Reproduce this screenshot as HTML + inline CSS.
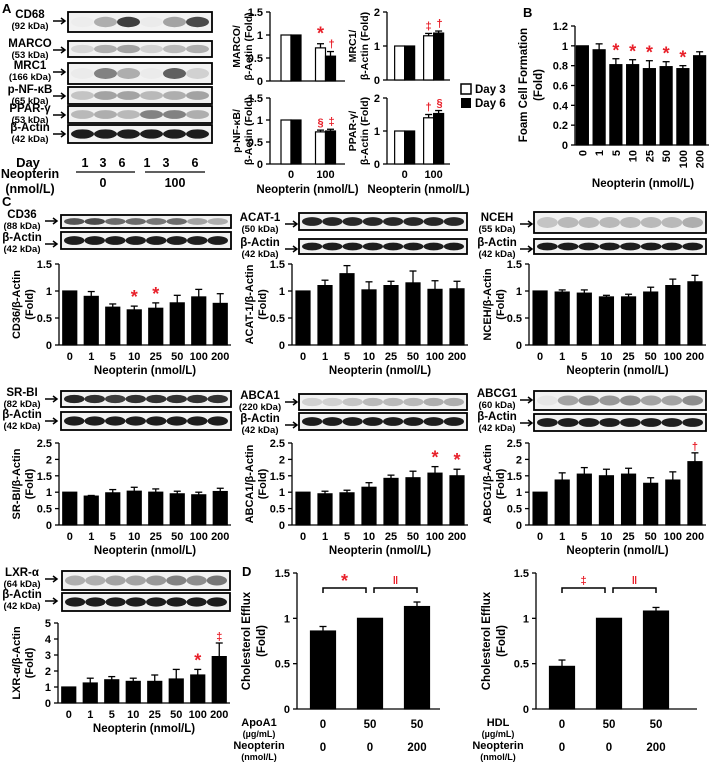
<!DOCTYPE html>
<html><head><meta charset="utf-8">
<style>
html,body{margin:0;padding:0;background:#fff;}
svg{display:block;font-family:"Liberation Sans",Arial,sans-serif;font-weight:bold;}
</style></head>
<body>
<svg id="fig" width="709" height="762" viewBox="0 0 709 762" xmlns="http://www.w3.org/2000/svg"></svg>
<script>
// ---------- data ----------
const concCats = ["0","1","5","10","25","50","100","200"];
const cd36Vals = [1,0.9,0.7,0.65,0.68,0.78,0.89,0.77];
const cd36Errs = [0,0.09,0.06,0.07,0.1,0.14,0.14,0.18];
const acatVals = [1,1.1,1.32,1.02,1.1,1.15,1.03,1.04];
const acatErrs = [0,0.1,0.15,0.15,0.08,0.22,0.16,0.14];
const ncehVals = [1,0.98,0.96,0.89,0.89,0.98,1.1,1.17];
const ncehErrs = [0,0.04,0.06,0.03,0.05,0.09,0.12,0.12];
const srbiVals = [1,0.88,0.98,1.03,1,0.95,0.92,1.02];
const srbiErrs = [0,0.02,0.1,0.12,0.1,0.08,0.08,0.1];
const abca1Vals = [1,0.95,0.98,1.15,1.42,1.44,1.58,1.5];
const abca1Errs = [0,0.08,0.08,0.14,0.1,0.2,0.2,0.2];
const abcg1Vals = [1,1.37,1.55,1.5,1.55,1.27,1.37,1.93];
const abcg1Errs = [0,0.22,0.2,0.2,0.18,0.17,0.25,0.27];
const lxrVals = [1,1.25,1.45,1.35,1.35,1.5,1.75,2.9];
const lxrErrs = [0,0.3,0.2,0.2,0.4,0.6,0.35,0.85];
const foamVals = [1,0.96,0.81,0.81,0.77,0.79,0.77,0.9];
const foamErrs = [0,0.06,0.06,0.05,0.08,0.05,0.03,0.04];
const aCats = ["0","100"];
const marcoDay3 = [1,0.72], marcoDay6 = [1,0.54], marcoErr3 = [0,0.09], marcoErr6 = [0,0.1];
const pnfDay3 = [1,0.73], pnfDay6 = [1,0.75], pnfErr3 = [0,0.04], pnfErr6 = [0,0.04];
const mrc1Day3 = [1,1.3], mrc1Day6 = [1,1.38], mrc1Err3 = [0,0.07], mrc1Err6 = [0,0.06];
const pparDay3 = [1,1.4], pparDay6 = [1,1.53], pparErr3 = [0,0.1], pparErr6 = [0,0.09];
const apoVals = [0.86,1,1.13], apoErrs = [0.05,0,0.05];
const hdlVals = [0.47,1,1.08], hdlErrs = [0.07,0,0.04];
const ticks15 = ["0","0.5","1","1.5"];
const ticks25 = ["0","0.5","1","1.5","2","2.5"];
const ticks5 = ["0","1","2","3","4","5"];
const ticks2 = ["0","1","2"];
const ticksFoam = ["0","0.2","0.4","0.6","0.8","1","1.2"];

// ---------- helpers ----------
const S = document.getElementById('fig');
const NS = "http://www.w3.org/2000/svg";
function mk(tag, at, parent){const e=document.createElementNS(NS,tag);for(const k in at)e.setAttribute(k,at[k]);(parent||S).appendChild(e);return e;}
function txt(x,y,s,size,anchor,name,color,parent){const t=mk('text',{x:x,y:y,'font-size':size,'text-anchor':anchor||'middle',fill:color||'#000'},parent);t.textContent=s;


return t;}
function line(x1,y1,x2,y2,w,parent){return mk('line',{x1:x1,y1:y1,x2:x2,y2:y2,stroke:'#000','stroke-width':w||1.3},parent);}

function axes(g,c,ticks){
  const ys=v=>c.yBot-(v/c.max)*(c.yBot-c.yTop);
  const ax=line(c.x0,c.yTop,c.x0,c.yBot,1.3,g);
  
  
  const bx=line(c.x0,c.yBot,c.x1,c.yBot,1.3,g);
  
  
  ticks.forEach(t=>{const y=ys(parseFloat(t));line(c.x0-4,y,c.x0,y,1.3,g);txt(c.x0-7,y+4,t,c.tf||11,'end','y-tick-label',null,g);});
  return ys;
}
function bar(g,x,w,y0,y1,fill,name){const r=mk('rect',{x:x-w/2,y:y1,width:w,height:y0-y1,fill:fill,stroke:'#000','stroke-width':1.2},g);


return r;}
function err(g,x,yTop,yErr){if(Math.abs(yErr-yTop)<0.5)return;line(x,yTop,x,yErr,1.3,g);line(x-3.5,yErr,x+3.5,yErr,1.3,g);}

function concChart(name,c,vals,errs,ticks){
  const g=mk('g',{});
  
  
  const ys=axes(g,c,ticks);
  const band=(c.x1-c.x0)/concCats.length;
  vals.forEach((v,i)=>{const cx=c.x0+band*(i+0.5);bar(g,cx,c.bw||14,c.yBot,ys(v),'#000','bar-'+concCats[i]);err(g,cx,ys(v),ys(v+errs[i]));
    txt(cx,c.yBot+15,concCats[i],11,'middle','x-tick-label',null,g);
    if(c.marks&&c.marks[i])txt(cx,ys(v+errs[i])-3,c.marks[i],c.marks[i]==='*'?18:11,'middle','significance-mark','#e8202a',g);});
  txt((c.x0+c.x1)/2,c.yBot+29,'Neopterin (nmol/L)',11.5,'middle','x-axis-title',null,g);
  const cy=(c.yTop+c.yBot)/2;
  c.ylab.forEach((s,k)=>{const t=txt(c.ylx+k*13,cy,s,11,'middle','y-axis-title',null,g);t.setAttribute('transform','rotate(-90 '+(c.ylx+k*13)+' '+cy+')');});
}
function blot(name,x,y,w,h,lanes){
  const g=mk('g',{});
  
  
  mk('rect',{x:x,y:y,width:w,height:h,fill:'#f2f2f2',stroke:'#000','stroke-width':1.8},g);
  const lw=(w-6)/lanes.length;
  lanes.forEach((a,i)=>{mk('ellipse',{cx:x+3+lw*(i+0.5),cy:y+h/2,rx:lw*0.5,ry:h*0.26,fill:'#111','fill-opacity':a},g);});
}
function arrow(x,y){
  const g=mk('g',{});
  
  
  line(x,y,x+11,y,1.5,g);
  mk('path',{d:'M'+(x+8)+' '+(y-3)+'L'+(x+12)+' '+y+'L'+(x+8)+' '+(y+3),fill:'none',stroke:'#000','stroke-width':1.5},g);
}
function blotLabel(x,y,n,k,arrowX){
  txt(x,y,n,11.5,'middle','blot-label');
  txt(x,y+11,k,9.5,'middle','blot-kda');
  arrow(arrowX,y+3);
}

// ---------- Panel A ----------
txt(2,13,'A',13,'start','panel-label-a');
const aBlots=[['CD68','(92 kDa)',12,20,[0.02,0.3,0.8,0.03,0.35,0.75]],['MARCO','(53 kDa)',41,16,[0.12,0.3,0.35,0.15,0.25,0.3]],['MRC1','(166 kDa)',63,21,[0.03,0.5,0.3,0.03,0.65,0.15]],['p-NF-κB','(65 kDa)',87,17,[0.2,0.35,0.35,0.25,0.3,0.35]],['PPAR-γ','(53 kDa)',106,17,[0.25,0.3,0.25,0.5,0.5,0.3]],['β-Actin','(42 kDa)',125,18,[0.95,0.95,0.95,0.95,0.95,0.95]]];
aBlots.forEach(b=>{blot('blot-'+b[0].toLowerCase(),68,b[2],144,b[3],b[4]);blotLabel(30,b[2]+6,b[0],b[1],53);});
txt(28,167,'Day',13,'middle','day-label');
[85,103,122,147,166,195].forEach((x,i)=>txt(x,167,['1','3','6','1','3','6'][i],12.5,'middle','day-value'));
line(76,172,135,172,1.2);line(145,172,205,172,1.2);
txt(30,178,'Neopterin',12.5,'middle','neopterin-label');txt(30,193,'(nmol/L)',12.5,'middle','neopterin-unit');
txt(103,187,'0',12.5,'middle','group-0');txt(175,187,'100',12.5,'middle','group-100');

function aChart(name,c,d3,d6,e3,e6,ticks,marks){
  const g=mk('g',{});
  
  
  const ys=axes(g,c,ticks);
  const fr=[0.28,0.74];
  aCats.forEach((cat,i)=>{const cx=c.x0+(c.x1-c.x0)*fr[i];
    bar(g,cx-5,10,c.yBot,ys(d3[i]),'#fff','bar-day3-'+cat);err(g,cx-5,ys(d3[i]),ys(d3[i]+e3[i]));
    bar(g,cx+5,10,c.yBot,ys(d6[i]),'#000','bar-day6-'+cat);err(g,cx+5,ys(d6[i]),ys(d6[i]+e6[i]));
    if(c.xl)txt(cx,c.yBot+14,cat,11,'middle','x-tick-label',null,g);
    if(i===1&&marks){txt(cx-5,ys(d3[i]+e3[i])-4,marks[0],marks[0]==='*'?18:11,'middle','significance-mark','#e8202a',g);txt(cx+6,ys(d6[i]+e6[i])-4,marks[1],marks[1]==='*'?18:11,'middle','significance-mark','#e8202a',g);}
  });
  if(c.xl)txt((c.x0+c.x1)/2,c.yBot+29,'Neopterin (nmol/L)',11.5,'middle','x-axis-title',null,g);
  const cy=(c.yTop+c.yBot)/2;
  c.ylab.forEach((s,k)=>{const t=txt(c.ylx+k*12,cy,s,10.5,'middle','y-axis-title',null,g);t.setAttribute('transform','rotate(-90 '+(c.ylx+k*12)+' '+cy+')');});
}
aChart('chart-marco',{x0:270,x1:345,yTop:12,yBot:81,max:1.5,ylab:['MARCO/','β-Actin (Fold)'],ylx:240},marcoDay3,marcoDay6,marcoErr3,marcoErr6,ticks15,['*','†']);
aChart('chart-pnfkb',{x0:270,x1:345,yTop:98,yBot:164,max:1.5,ylab:['p-NF-κB/','β-Actin (Fold)'],ylx:240,xl:true},pnfDay3,pnfDay6,pnfErr3,pnfErr6,ticks15,['§','‡']);
aChart('chart-mrc1',{x0:387,x1:450,yTop:12,yBot:80,max:2,ylab:['MRC1/','β-Actin (Fold)'],ylx:356},mrc1Day3,mrc1Day6,mrc1Err3,mrc1Err6,ticks2,['‡','†']);
aChart('chart-pparg',{x0:387,x1:450,yTop:98,yBot:164,max:2,ylab:['PPAR-γ/','β-Actin (Fold)'],ylx:356,xl:true},pparDay3,pparDay6,pparErr3,pparErr6,ticks2,['†','§']);
// legend
const lg=mk('g',{});


mk('rect',{x:461,y:84,width:10,height:10,fill:'#fff',stroke:'#000','stroke-width':1.5},lg);
txt(475,93,'Day 3',11.5,'start','legend-day3',null,lg);
mk('rect',{x:461,y:98,width:10,height:10,fill:'#000'},lg);
txt(475,107,'Day 6',11.5,'start','legend-day6',null,lg);

// ---------- Panel B ----------
txt(523,17,'B',13,'start','panel-label-b');
(function(){
  const c={x0:575,x1:709,yTop:26,yBot:145,max:1.2};
  const g=mk('g',{});
  
  
  const ys=axes(g,c,ticksFoam);
  const band=(c.x1-c.x0)/concCats.length;
  foamVals.forEach((v,i)=>{const cx=c.x0+band*(i+0.5)-1;bar(g,cx,12,c.yBot,ys(v),'#000','bar-'+concCats[i]);err(g,cx,ys(v),ys(v+foamErrs[i]));
    const t=txt(cx+4,150,concCats[i],11,'end','x-tick-label',null,g);t.setAttribute('transform','rotate(-90 '+(cx+4)+' 150)');
    if(i>=2&&i<=6)txt(cx,ys(v+foamErrs[i])-2,'*',18,'middle','significance-mark','#e8202a',g);});
  txt(643,187,'Neopterin (nmol/L)',11.5,'middle','x-axis-title',null,g);
  [['Foam Cell Formation',527],['(Fold)',542]].forEach(a=>{const t=txt(a[1],85,a[0],11.5,'middle','y-axis-title',null,g);t.setAttribute('transform','rotate(-90 '+a[1]+' 85)');});
})();

// ---------- Panel C ----------
txt(2,206,'C',13,'start','panel-label-c');
const lanes8a=[0.7,0.75,0.6,0.6,0.55,0.6,0.35,0.3];
const act8=[0.95,0.95,0.95,0.95,0.95,0.95,0.95,0.95];
blot('blot-cd36',61,215,170,13,lanes8a);blot('blot-actin-cd36',61,232,170,17,act8);
blotLabel(22,218,'CD36','(88 kDa)',45);blotLabel(22,241,'β-Actin','(42 kDa)',45);
blot('blot-acat1',299,213,168,17,[0.9,0.9,0.9,0.9,0.9,0.9,0.9,0.9]);blot('blot-actin-acat1',299,239,168,15,act8);
blotLabel(260,221,'ACAT-1','(50 kDa)',285);blotLabel(260,246,'β-Actin','(42 kDa)',285);
blot('blot-nceh',534,212,172,21,[0.2,0.25,0.25,0.25,0.25,0.25,0.25,0.3]);blot('blot-actin-nceh',534,239,172,15,act8);
blotLabel(497,221,'NCEH','(55 kDa)',520);blotLabel(497,246,'β-Actin','(42 kDa)',520);

concChart('chart-cd36',{x0:59,x1:231,yTop:264,yBot:345,max:1.5,ylab:['CD36/β-Actin','(Fold)'],ylx:20,marks:[0,0,0,'*','*']},cd36Vals,cd36Errs,ticks15);
concChart('chart-acat1',{x0:292,x1:468,yTop:264,yBot:345,max:1.5,ylab:['ACAT-1/β-Actin','(Fold)'],ylx:253},acatVals,acatErrs,ticks15);
concChart('chart-nceh',{x0:529,x1:706,yTop:264,yBot:345,max:1.5,ylab:['NCEH/β-Actin','(Fold)'],ylx:491},ncehVals,ncehErrs,ticks15);

blot('blot-srbi',61,391,170,16,[0.9,0.85,0.8,0.85,0.85,0.85,0.85,0.85]);blot('blot-actin-srbi',61,412,170,18,act8);
blotLabel(22,396,'SR-BI','(82 kDa)',45);blotLabel(22,418,'β-Actin','(42 kDa)',45);
blot('blot-abca1',299,394,168,16,[0.15,0.15,0.2,0.25,0.25,0.25,0.3,0.3]);blot('blot-actin-abca1',299,413,168,17,act8);
blotLabel(260,399,'ABCA1','(220 kDa)',285);blotLabel(260,422,'β-Actin','(42 kDa)',285);
blot('blot-abcg1',534,391,172,19,[0.05,0.35,0.45,0.4,0.45,0.35,0.35,0.45]);blot('blot-actin-abcg1',534,414,172,17,act8);
blotLabel(497,397,'ABCG1','(60 kDa)',520);blotLabel(497,420,'β-Actin','(42 kDa)',520);

concChart('chart-srbi',{x0:59,x1:231,yTop:443,yBot:525,max:2.5,ylab:['SR-BI/β-Actin','(Fold)'],ylx:20},srbiVals,srbiErrs,ticks25);
concChart('chart-abca1',{x0:292,x1:468,yTop:443,yBot:525,max:2.5,ylab:['ABCA1/β-Actin','(Fold)'],ylx:253,marks:[0,0,0,0,0,0,'*','*']},abca1Vals,abca1Errs,ticks25);
concChart('chart-abcg1',{x0:529,x1:706,yTop:443,yBot:525,max:2.5,ylab:['ABCG1/β-Actin','(Fold)'],ylx:491,marks:[0,0,0,0,0,0,0,'†']},abcg1Vals,abcg1Errs,ticks25);

blot('blot-lxr',62,571,168,19,[0.3,0.3,0.35,0.35,0.4,0.5,0.45,0.55]);blot('blot-actin-lxr',62,593,168,18,act8);
blotLabel(22,576,'LXR-α','(64 kDa)',45);blotLabel(22,598,'β-Actin','(42 kDa)',45);
concChart('chart-lxr',{x0:58,x1:230,yTop:623,yBot:703,max:5,ylab:['LXR-α/β-Actin','(Fold)'],ylx:20,marks:[0,0,0,0,0,0,'*','‡']},lxrVals,lxrErrs,ticks5);

// ---------- Panel D ----------
txt(242,576,'D',13,'start','panel-label-d');
function dChart(name,c,vals,errs,rows,brk){
  const g=mk('g',{});
  
  
  const ys=axes(g,c,ticks15);
  const cx=i=>c.x0+26+47*i;
  vals.forEach((v,i)=>{bar(g,cx(i),25,c.yBot,ys(v),'#000','bar-'+i);err(g,cx(i),ys(v),ys(v+errs[i]));
    txt(cx(i),c.yBot+19,rows[1][i],11.5,'middle','row1-value',null,g);txt(cx(i),c.yBot+42,rows[3][i],11.5,'middle','row2-value',null,g);});
  txt(c.x0-38,c.yBot+17,rows[0],11,'middle','row1-label',null,g);txt(c.x0-38,c.yBot+28,'(µg/mL)',9,'middle','row1-unit',null,g);
  txt(c.x0-38,c.yBot+40,rows[2],11,'middle','row2-label',null,g);txt(c.x0-38,c.yBot+51,'(nmol/L)',9,'middle','row2-unit',null,g);
  [[cx(0),cx(1)-4,brk[0]],[cx(1)+4,cx(2),brk[1]]].forEach(b=>{const p=mk('path',{d:'M'+b[0]+' 593V588H'+b[1]+'V593',fill:'none',stroke:'#000','stroke-width':1.5},g);
    
    
    txt((b[0]+b[1])/2,b[2]==='*'?587:584,b[2],b[2]==='*'?18:11,'middle','significance-mark','#e8202a',g);});
  const cy=641;
  [['Cholesterol Efflux',c.ylx],['(Fold)',c.ylx+15]].forEach(a=>{const t=txt(a[1],cy,a[0],11.5,'middle','y-axis-title',null,g);t.setAttribute('transform','rotate(-90 '+a[1]+' '+cy+')');});
}
dChart('chart-apoa1-efflux',{x0:297,x1:440,yTop:573,yBot:709,max:1.5,ylx:250},apoVals,apoErrs,['ApoA1',['0','50','50'],'Neopterin',['0','0','200']],['*','‖']);
dChart('chart-hdl-efflux',{x0:536,x1:697,yTop:573,yBot:709,max:1.5,ylx:490},hdlVals,hdlErrs,['HDL',['0','50','50'],'Neopterin',['0','0','200']],['‡','‖']);
</script>
</body></html>
